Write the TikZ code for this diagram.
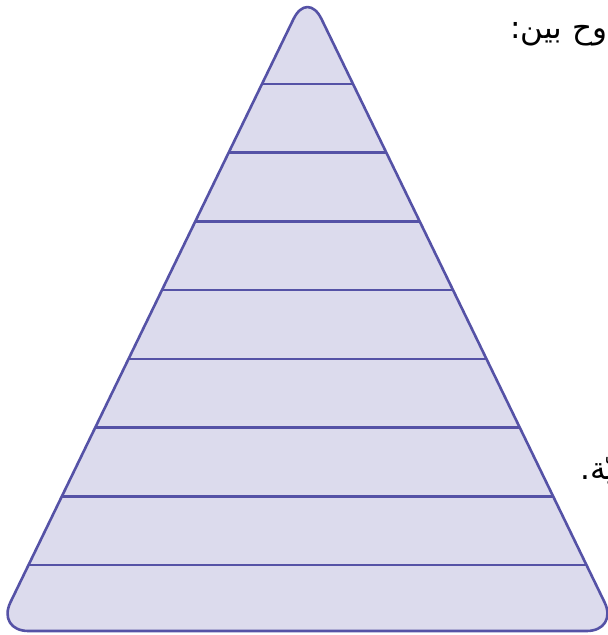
\documentclass[tikz,border=0pt]{standalone}
\usepackage{fontspec}
\newfontfamily\arabicfont[Script=Arabic]{DejaVu Sans}
\TeXXeTstate=1
\definecolor{edge}{RGB}{85,82,166}
\definecolor{face}{RGB}{220,219,237}
\begin{document}
\begin{tikzpicture}[x=1pt,y=-1pt,
  outline/.style={draw=edge,line width=2.6pt,line join=round,rounded corners=32pt},
  layer/.style={draw=edge,line width=2.6pt},
  txt/.style={font=\arabicfont\fontsize{31}{36}\selectfont,inner sep=0pt}]
\clip (0,0) rectangle (608,635);
\coordinate (apex) at (307.5,-9.8);
\coordinate (bl) at (-3.5,631);
\coordinate (br) at (618.5,631);
\coordinate (bm) at (307.5,631);
\fill[face,rounded corners=32pt] (bm) -- (br) -- (apex) -- (bl) -- cycle;
\foreach \i in {0,...,7}{
  \pgfmathsetmacro{\yy}{84+\i*68.7}
  \pgfmathsetmacro{\hh}{0.4855*(\yy+9.8)}
  \coordinate (l\i) at (307.5-\hh,\yy);
  \coordinate (r\i) at (307.5+\hh,\yy);
  \draw[layer] (l\i) -- (r\i);
}
\draw[outline] (bm) -- (br) -- (apex) -- (bl) -- cycle;
\node[txt,anchor=base west] (t1) at (510,38) {\beginR وح بين:\endR};
\node[txt,anchor=base west] (t2) at (580,479) {\beginR ـيّة.\endR};
\end{tikzpicture}
\end{document}
